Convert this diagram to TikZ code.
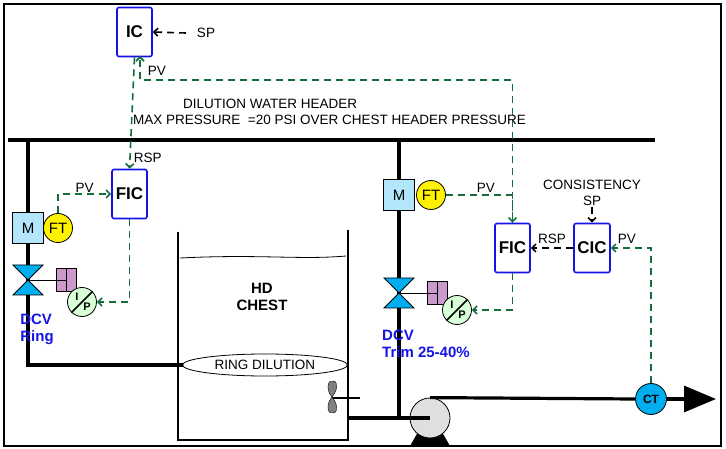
\documentclass[tikz,border=0pt]{standalone}
\usepackage{fontspec}
\setmainfont{Liberation Sans}
\usetikzlibrary{shapes,arrows.meta,calc}
\definecolor{sig}{RGB}{20,110,60}
\definecolor{ctrlblue}{RGB}{20,20,230}
\tikzset{
  ctrl/.style={draw=ctrlblue,line width=1.6pt,rounded corners=2pt,fill=white,minimum width=35pt,minimum height=49pt,font=\bfseries\fontsize{17}{19}\selectfont},
  sgl/.style={draw=sig,line width=1.6pt,dash pattern=on 7pt off 5pt,-{Straight Barb[length=4pt,width=8pt]}},
  bsgl/.style={draw=black,line width=1.6pt,dash pattern=on 7pt off 5pt,-{Straight Barb[length=4pt,width=8pt]}},
  pipe/.style={line width=3.2pt},
  lbl/.style={font=\fontsize{13.5}{16}\selectfont,inner sep=1pt},
  blbl/.style={font=\bfseries\fontsize{15}{17}\selectfont,text=ctrlblue,align=left,inner sep=0pt},
  motor/.style={draw,thick,fill=cyan!30,minimum size=31pt,inner sep=0pt,font=\fontsize{15}{17}\selectfont},
  ft/.style={circle,draw,thick,fill=yellow,minimum size=29pt,inner sep=0pt,font=\fontsize{15}{17}\selectfont},
  ip/.style={circle,draw,thick,fill=green!15,minimum size=29pt,inner sep=0pt},
  act/.style={draw,thick,fill=violet!40,minimum width=20pt,minimum height=23pt,inner sep=0pt},
}
\begin{document}
\begin{tikzpicture}[x=1pt,y=-1pt]
        \useasboundingbox (0,0) rectangle (726,449);
        \draw[line width=1.5pt] (4,4) rectangle (721,446);
        % header and pipes
        \draw[pipe] (8,140) -- (655,140);
        \draw[pipe] (28,140) -- (28,365) -- (185,365);
        \draw[pipe] (399,140) -- (399,418);
        % tank
        \draw[line width=2pt] (178,232) -- (178,440) -- (348,440) -- (348,230);
        \draw[thick] (180,258) .. controls (260,254) and (300,260) .. (346,256);
        \node[font=\bfseries\fontsize{15}{17}\selectfont,align=center] (chest) at (262,297) {HD\\CHEST};
        \node[ellipse,draw,thick,fill=white,minimum width=165pt,minimum height=22pt,inner sep=0pt,lbl] (ring) at (265,365) {RING DILUTION};
        % agitator
        \draw[line width=1.5pt] (332,398) -- (360,398);
        \draw[fill=gray] (332,397) .. controls (324,388) and (330,378) .. (332,382) .. controls (336,378) and (340,388) .. (332,397);
        \draw[fill=gray] (332,397) .. controls (324,406) and (330,416) .. (332,412) .. controls (336,416) and (340,406) .. (332,397);
        % pump
        \fill (418,432) -- (442,432) -- (450,446) -- (410,446) -- cycle;
        \node[circle,draw,thick,fill=gray!25,minimum size=40pt] (pump) at (430,418) {};
        \draw[pipe] (348,418) -- (430,418);
        \node[circle,draw,thick,fill=cyan,minimum size=31pt,inner sep=0pt,font=\bfseries\fontsize{12}{12}\selectfont] (ct) at (651,399) {CT};
        \coordinate (out) at (716,399);
        \draw[pipe] (pump.north) -- (ct.west);
        \draw[pipe,-{Triangle[length=32pt,width=26pt]}] (ct.east) -- (out);
        % left loop
        \node[motor] (m1) at (28,228) {M};
        \node[ft] (ft1) at (58,228) {FT};
        \draw[thick,fill=cyan] (13,265) -- (43,265) -- (13,295) -- (43,295) -- cycle;
        \coordinate (v1) at (28,280);
        \node[act] (a1) at (66,280) {};
        \draw[thick] (a1.north) -- (a1.south) (v1) -- (a1.center);
        \node[ip] (ip1) at (82,302) {};
        \draw[line width=1.5pt] (ip1.south west) -- (ip1.north east);
        \node[font=\bfseries\fontsize{11}{11}\selectfont] at (77,297) {I};
        \node[font=\bfseries\fontsize{11}{11}\selectfont] at (87,307) {P};
        \node[ctrl] (fic1) at (129.5,194) {FIC};
        \node[blbl] at (37,329) {DCV\\Ring};
        % top controller
        \node[ctrl] (ic) at (134.5,32) {IC};
        \node[lbl] (sp1) at (206,33) {SP};
        \draw[bsgl] (186,33) -- (ic.east);
        % right loop
        \node[motor] (m2) at (399,195) {M};
        \node[ft] (ft2) at (431,195) {FT};
        \draw[thick,fill=cyan] (384,278) -- (414,278) -- (384,308) -- (414,308) -- cycle;
        \coordinate (v2) at (399,293);
        \node[act] (a2) at (437,293) {};
        \draw[thick] (a2.north) -- (a2.south) (v2) -- (a2.center);
        \node[ip] (ip2) at (457,310) {};
        \draw[line width=1.5pt] (ip2.south west) -- (ip2.north east);
        \node[font=\bfseries\fontsize{11}{11}\selectfont] at (452,305) {I};
        \node[font=\bfseries\fontsize{11}{11}\selectfont] at (462,315) {P};
        \node[ctrl] (fic2) at (512.5,248) {FIC};
        \node[ctrl] (cic) at (592,248) {CIC};
        \node[lbl,align=center] (csp) at (592,193) {CONSISTENCY\\SP};
        \node[blbl] at (426,344) {DCV\\Trim 25-40\%};
        % signals
        \draw[sgl] (ic.south) -- (fic1.north) node[lbl,pos=0.9,anchor=west,xshift=2pt] {RSP};
        \draw[sgl] (ft1.north) |- (fic1.west) node[lbl,pos=0.75,above] {PV};
        \draw[sgl] (fic1.south) |- (ip1.east);
        \draw[sgl] (fic2.north) -- (512.5,80) -- (140,80) -- (140,56) node[lbl,pos=0.4,right=6pt] {PV};
        \draw[sgl] (ft2.east) -| (fic2.north) node[lbl,pos=0.3,above=1pt] {PV};
        \draw[sgl] (fic2.south) |- (ip2.east);
        \draw[bsgl] (cic.west) -- (fic2.east) node[lbl,midway,above=3pt] {RSP};
        \draw[bsgl] (csp.south) -- (cic.north);
        \draw[sgl] (ct.north) |- (cic.east) node[lbl,pos=0.8,above=3pt] {PV};
        \node[lbl,align=left,anchor=west] (hdr) at (132,112) {\hspace*{50pt}DILUTION WATER HEADER\\MAX PRESSURE\ \ =20 PSI OVER CHEST HEADER PRESSURE};
\end{tikzpicture}
\end{document}
